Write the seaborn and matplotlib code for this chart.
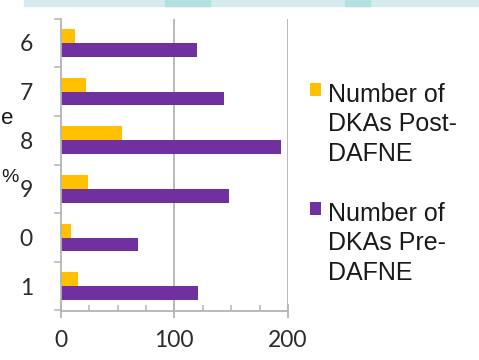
import matplotlib
matplotlib.use("Agg")
import matplotlib.pyplot as plt
from matplotlib.patches import Rectangle
import numpy as np
import pandas as pd
import seaborn as sns

categories = ["6", "7", "8", "9", "0", "1"]
post_dafne = [13, 22, 54, 24, 9, 15]
pre_dafne = [120, 144, 194, 148, 68, 121]
series_names = ["Number of\nDKAs Post-\nDAFNE", "Number of\nDKAs Pre-\nDAFNE"]
x_ticks = [0, 100, 200]

df = pd.DataFrame({
    "cat": categories * 2,
    "value": post_dafne + pre_dafne,
    "series": [series_names[0]] * len(categories) + [series_names[1]] * len(categories),
})

sns.set_theme(style="white")
plt.rcParams["font.family"] = ["Lato", "DejaVu Sans"]

W, H = 479, 360
fig = plt.figure(figsize=(W / 100, H / 100), dpi=100)
ax = fig.add_axes([60.7 / W, 1 - 310.5 / H, (288 - 60.7) / W, (310.5 - 18.6) / H])

sns.barplot(data=df, y="cat", x="value", hue="series", order=categories,
            hue_order=series_names, palette=["#ffc000", "#7030a0"],
            width=0.57, orient="h", ax=ax, saturation=1, linewidth=0)

grid_c = "#b4b4b4"
ax.set_xlim(0, 200)
ax.set_ylim(len(categories) - 0.5, -0.5)
ax.set_xticks(x_ticks)
ax.set_xticklabels([str(t) for t in x_ticks])
ax.set_xticks(np.arange(0, 201, 25), minor=True)
ax.set_yticks(range(len(categories)))
ax.set_yticklabels(categories)
ax.set_yticks(np.arange(-0.5, len(categories), 1), minor=True)
ax.set_xlabel("")
ax.set_ylabel("")
for v in x_ticks[1:]:
    ax.axvline(v, color=grid_c, lw=1.3, zorder=0)
for s in ["top", "right"]:
    ax.spines[s].set_visible(False)
for s in ["left", "bottom"]:
    ax.spines[s].set_color(grid_c)
    ax.spines[s].set_linewidth(1.3)

ax.tick_params(axis="x", which="major", direction="inout", length=10, width=1.3,
               color=grid_c, labelsize=16.5, labelcolor="#2b2b2b", pad=9, bottom=True)
ax.tick_params(axis="x", which="minor", direction="in", length=4, width=1.1,
               color=grid_c, bottom=True)
ax.tick_params(axis="y", which="major", length=0, labelsize=16.5, labelcolor="#2b2b2b", pad=20)
ax.tick_params(axis="y", which="minor", direction="out", length=5, width=1.1,
               color=grid_c, left=True)

leg = ax.legend(loc="upper left", bbox_to_anchor=(310 / W, 1 - 83 / H),
                bbox_transform=fig.transFigure, frameon=False,
                prop={"family": "Liberation Sans", "size": 18},
                handlelength=0.42, handleheight=0.42, handletextpad=0.3,
                labelspacing=1.45, borderpad=0, borderaxespad=0)
for t in leg.get_texts():
    t.set_color("#1a1a1a")
    t.set_linespacing(1.28)
for col in leg._legend_handle_box.get_children():
    for item in col.get_children():
        item.align = "top"

# cropped background pieces
fig.patches.append(Rectangle((24 / W, 1 - 6 / H), 1, 6 / H, transform=fig.transFigure,
                             color="#d4ecef", zorder=0))
fig.patches.append(Rectangle((165 / W, 1 - 6 / H), 45 / W, 6 / H, transform=fig.transFigure,
                             color="#b3e0e3", zorder=0))
fig.patches.append(Rectangle((345 / W, 1 - 6 / H), 25 / W, 6 / H, transform=fig.transFigure,
                             color="#b3e0e3", zorder=0))
fig.text(1 / W, 1 - 119 / H, "e", ha="left", va="center", fontsize=16,
         family="Liberation Sans", color="#1a1a1a")
fig.text(1 / W, 1 - 178 / H, "%", ha="left", va="center", fontsize=14,
         family="Liberation Sans", color="#1a1a1a")

fig.savefig("out.png", dpi=100)
